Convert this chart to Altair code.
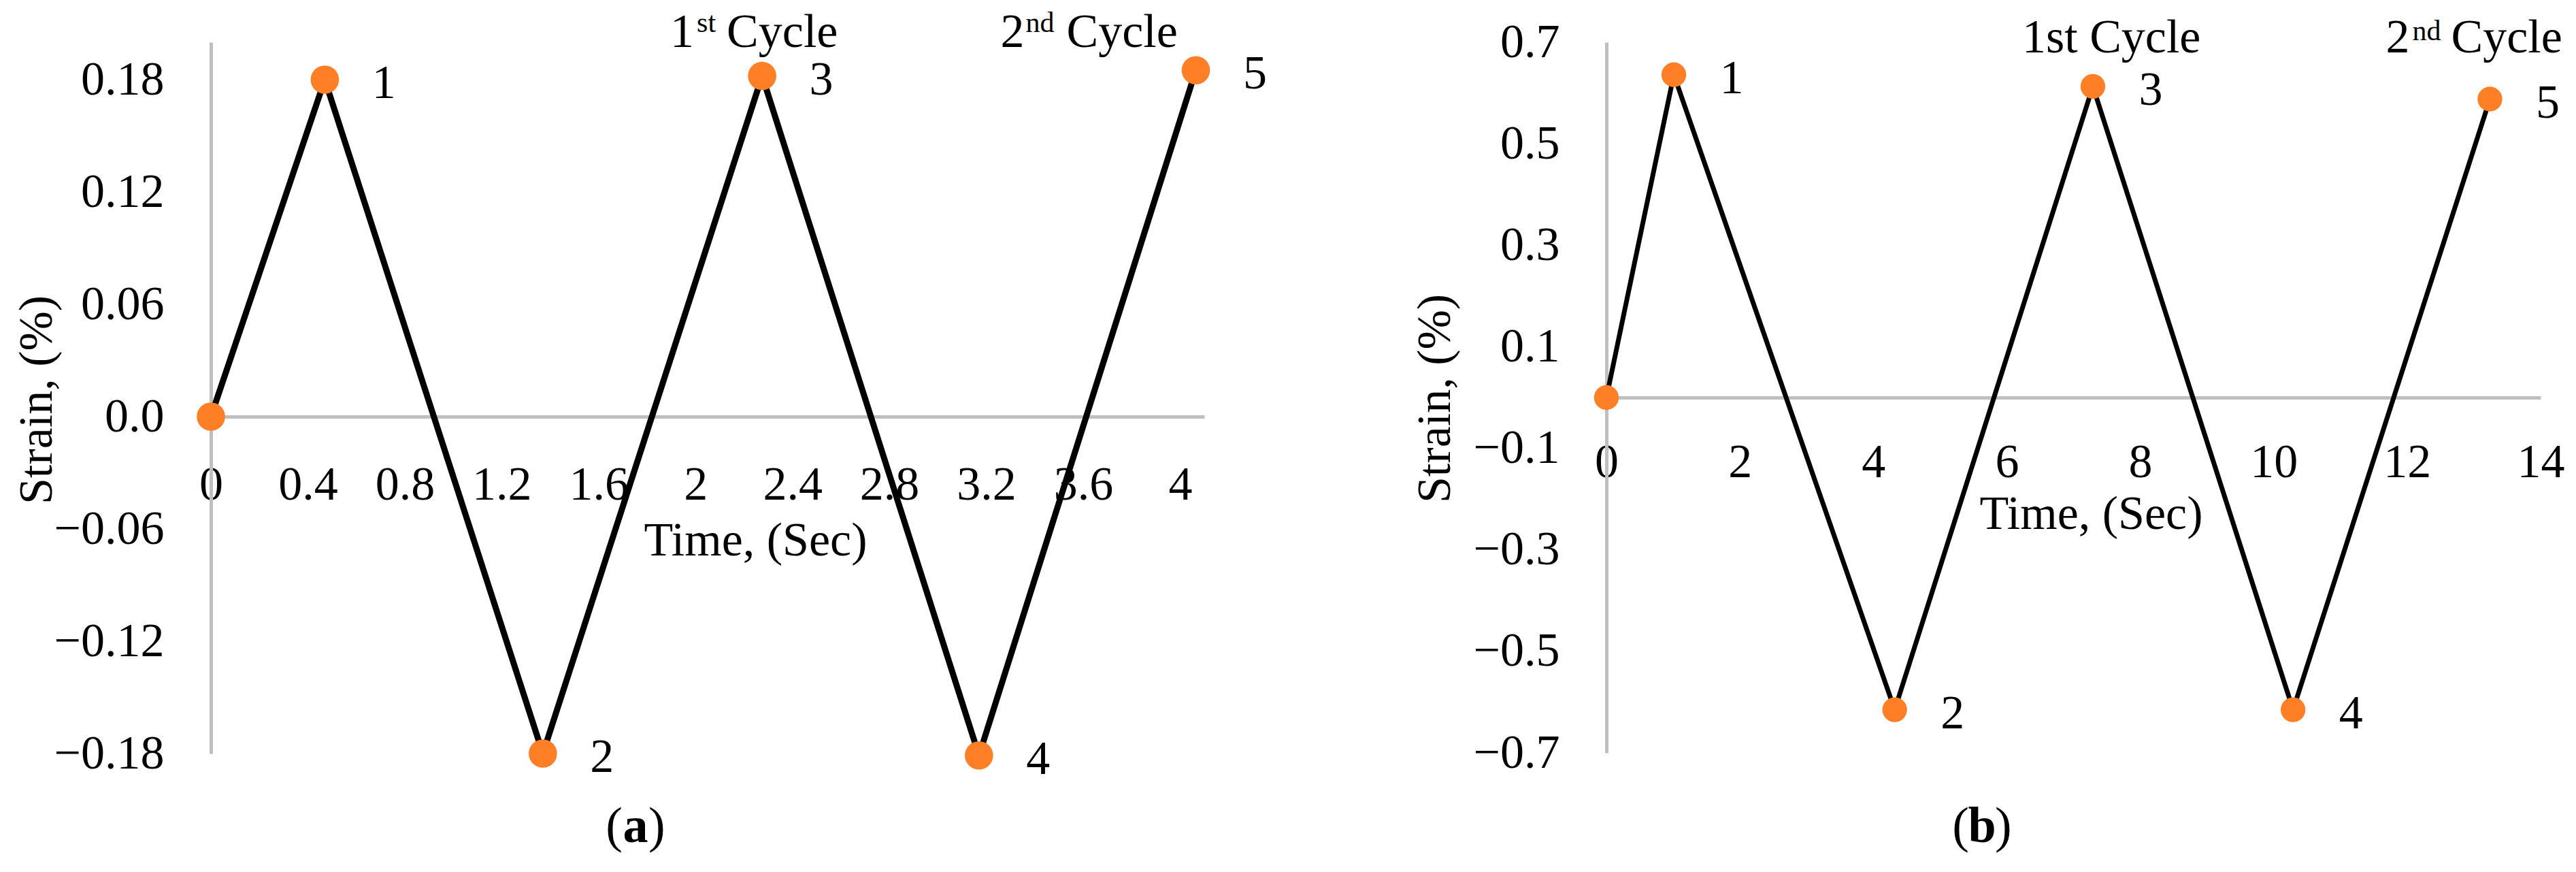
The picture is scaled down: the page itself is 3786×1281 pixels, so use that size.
import altair as alt
import pandas as pd

# ---------------- data ----------------
# Panel (a)
time_a = [0, 0.47, 1.37, 2.275, 3.17, 4.065]
strain_a = [0.0, 0.180, -0.180, 0.182, -0.181, 0.185]
# Panel (b)
time_b = [0, 1.01, 4.32, 7.29, 10.29, 13.24]
strain_b = [0.0, 0.636, -0.615, 0.613, -0.615, 0.588]
point_labels = ["", "1", "2", "3", "4", "5"]

xticks_a = [0, 0.4, 0.8, 1.2, 1.6, 2, 2.4, 2.8, 3.2, 3.6, 4]
yticks_a = [-0.18, -0.12, -0.06, 0, 0.06, 0.12, 0.18]
xticks_b = [0, 2, 4, 6, 8, 10, 12, 14]
yticks_b = [-0.7, -0.5, -0.3, -0.1, 0.1, 0.3, 0.5, 0.7]

x_title = "Time, (Sec)"
y_title = "Strain, (%)"

FONT = "Liberation Serif"
ORANGE = "#FF7F27"
GREY = "#BFBFBF"
FS = 70
SUP = 42


def panel(time, strain, xdom, ydom, xticks, yticks, xfmt, ylabexpr, W, H,
          msize, lw, lab_dx, xlab_pad, xt_x, xt_y, yt_x, yt_y):
    df = pd.DataFrame({"t": time, "s": strain, "lab": point_labels,
                       "i": list(range(len(time)))})
    zero_px = H * ydom[1] / (ydom[1] - ydom[0])
    x = alt.X("t:Q", scale=alt.Scale(domain=xdom, nice=False, zero=False),
              axis=alt.Axis(values=xticks, format=xfmt, offset=-(H - zero_px),
                            domainColor=GREY, domainWidth=5, ticks=False, grid=False,
                            labelPadding=xlab_pad, labelBaseline="middle",
                            labelFlush=False, labelOverlap=False,
                            labelFont=FONT, labelFontSize=FS, labelColor="black",
                            title=x_title, titleFont=FONT, titleFontSize=FS,
                            titleFontWeight="normal", titleColor="black",
                            titleX=xt_x, titleY=xt_y, titleBaseline="alphabetic",
                            titleAlign="center"))
    y = alt.Y("s:Q", scale=alt.Scale(domain=ydom, nice=False, zero=False),
              axis=alt.Axis(values=yticks, labelExpr=ylabexpr,
                            domainColor=GREY, domainWidth=5, ticks=False, grid=False,
                            labelPadding=69, labelOverlap=False,
                            labelFont=FONT, labelFontSize=FS, labelColor="black",
                            title=y_title, titleFont=FONT, titleFontSize=FS,
                            titleFontWeight="normal", titleColor="black",
                            titleX=yt_x, titleY=yt_y, titleBaseline="middle",
                            titleAlign="center", titleAngle=270))
    base = alt.Chart(df)
    line = base.mark_line(color="black", strokeWidth=lw).encode(x=x, y=y, order="i:Q")
    pts = base.mark_circle(color=ORANGE, opacity=1, size=msize).encode(x=x, y=y)
    labs = base.mark_text(font=FONT, fontSize=FS, align="center", baseline="middle",
                          dx=lab_dx, dy=6, color="black").encode(x=x, y=y, text="lab:N")
    return df, x, [line, pts, labs]


def txt(df_row, xenc, text, dx, ypx, size=FS, align="left", weight="normal"):
    return alt.Chart(df_row).mark_text(
        text=text, font=FONT, fontSize=size, align=align, baseline="alphabetic",
        dx=dx, color="black", fontWeight=weight
    ).encode(x=xenc, y=alt.value(ypx))


def cap(xc, ypx, letter):
    d = pd.DataFrame({"k": [0]})
    c1 = alt.Chart(d).mark_text(text="(", font=FONT, fontSize=74, align="right",
                                baseline="alphabetic", color="black").encode(
        x=alt.value(xc - 19), y=alt.value(ypx))
    c2 = alt.Chart(d).mark_text(text=letter, font=FONT, fontSize=74, align="center",
                                baseline="alphabetic", fontWeight="bold",
                                color="black").encode(x=alt.value(xc), y=alt.value(ypx))
    c3 = alt.Chart(d).mark_text(text=")", font=FONT, fontSize=74, align="left",
                                baseline="alphabetic", color="black").encode(
        x=alt.value(xc + 19), y=alt.value(ypx))
    return [c1, c2, c3]


# ---------------- panel (a) ----------------
WA, HA = 1460, 1045
dfa, xa, layers_a = panel(
    time_a, strain_a, [0, 4.1], [-0.18, 0.2], xticks_a, yticks_a, ".1~f",
    "datum.value == 0 ? '0.0' : format(datum.value, '.2f')",
    WA, HA, 1735, 9, 87, 100, 800, 203, -256, 525)
p3a = dfa.iloc[[3]]
p5a = dfa.iloc[[5]]
ann_a = [
    txt(p3a, xa, "1", -100, 7, align="right"),
    txt(p3a, xa, "st", -68, -15, size=SUP, align="right"),
    txt(p3a, xa, "Cycle", -52, 7),
    txt(p5a, xa, "2", -252, 7, align="right"),
    txt(p5a, xa, "nd", -208, -15, size=SUP, align="right"),
    txt(p5a, xa, "Cycle", -190, 7),
]
chart_a = alt.layer(*layers_a, *ann_a, *cap(624, 1175, "a")).properties(width=WA, height=HA)

# ---------------- panel (b) ----------------
WB, HB = 1373, 1044
dfb, xb, layers_b = panel(
    time_b, strain_b, [0, 14], [-0.7, 0.7], xticks_b, yticks_b, "d",
    "format(datum.value, '.1f')",
    WB, HB, 1320, 7, 85, 95, 712, 192, -252, 523)
p3b = dfb.iloc[[3]]
p5b = dfb.iloc[[5]]
ann_b = [
    txt(p3b, xb, "1st Cycle", -104, 15),
    txt(p5b, xb, "2", -118, 15, align="right"),
    txt(p5b, xb, "nd", -72, -3, size=SUP, align="right"),
    txt(p5b, xb, "Cycle", -57, 15),
]
chart_b = alt.layer(*layers_b, *ann_b, *cap(552, 1175, "b")).properties(width=WB, height=HB)

chart = alt.hconcat(chart_a, chart_b, spacing=591, bounds="flush").properties(
    padding={"left": 11, "top": 5, "right": 5, "bottom": 5}
).configure_view(stroke=None)

chart.save("out.html", embed_options={"renderer": "svg", "actions": False})
